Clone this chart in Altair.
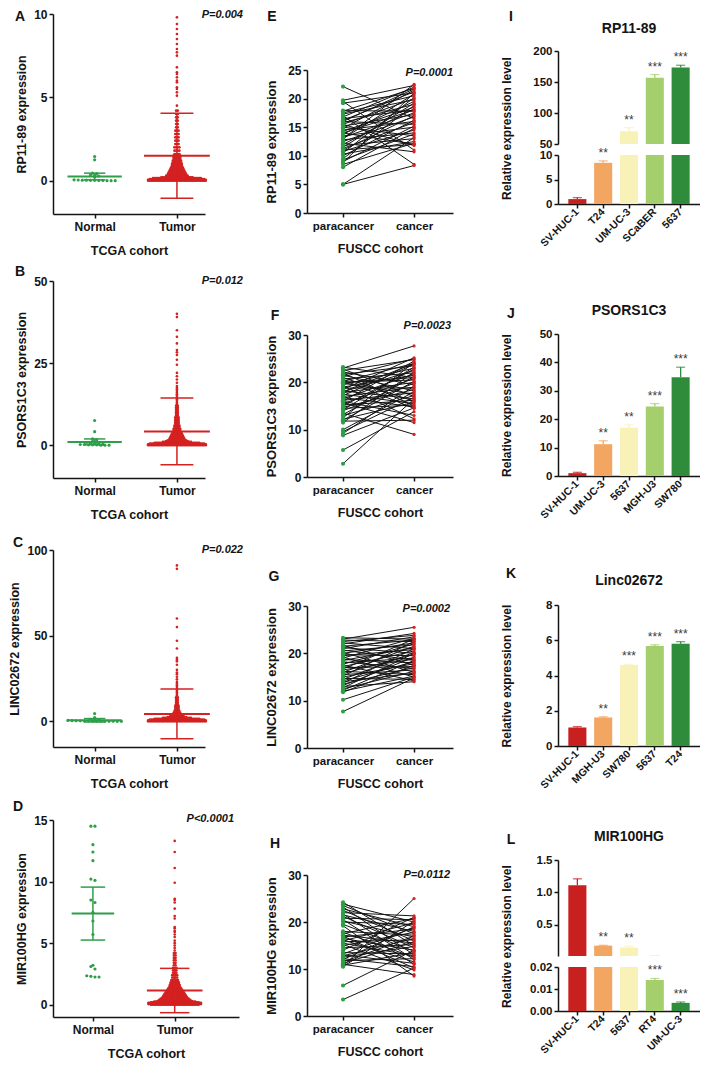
import altair as alt
import numpy as np
import pandas as pd

FONT = "Liberation Sans"
INK = "#141414"
GREEN = "#2f9e48"
RED = "#d42121"
BAR_COLORS = ["#c81f1f", "#f3a562", "#f8f2b8", "#a5cf6c", "#2f8c3b"]

LETTERS = ["A", "B", "C", "D", "E", "F", "G", "H", "I", "J", "K", "L"]
P_TCGA = ["P=0.004", "P=0.012", "P=0.022", "P<0.0001"]
P_FUSCC = ["P=0.0001", "P=0.0023", "P=0.0002", "P=0.0112"]
GENES_TCGA = ["RP11-89 expression", "PSORS1C3 expression", "LINC02672 expression", "MIR100HG expression"]
GENES_FUSCC = ["RP11-89 expression", "PSORS1C3 expression", "LINC02672 expression", "MIR100HG expression"]
BAR_TITLES = ["RP11-89", "PSORS1C3", "Linc02672", "MIR100HG"]

# ---------------- TCGA cohort (A-D) ----------------
A_normal = [1.45, 1.25, 0.45, 0.42, 0.35, 0.3, 0.28, 0.22, 0.05, 0.04, 0.03, 0.03, 0.02, 0.02, 0.01, 0.01, 0.0, 0.0, 0.0]
A_tumor_levels = [0.0, 0.05, 0.1, 0.15, 0.2, 0.25,
                  0.3, 0.4, 0.5, 0.6, 0.7, 0.8, 0.9, 1.0, 1.1, 1.2, 1.3, 1.4, 1.5, 1.6,
                  1.8, 2.0, 2.2, 2.4, 2.6, 2.8, 3.0, 3.2, 3.4, 3.6, 3.8, 4.0, 4.2,
                  4.5, 5.1, 5.3, 5.5, 5.6, 5.9, 6.0, 6.2, 6.4, 6.5, 6.8, 7.5, 7.7, 7.9, 8.2, 8.5, 8.8, 9.1, 9.4, 9.8]
A_tumor_counts = [36, 36, 34, 30, 20, 14,
                  14, 12, 11, 10, 9, 8, 7, 7, 6, 6, 5, 5, 5, 4,
                  4, 4, 3, 3, 3, 3, 3, 2, 2, 2, 2, 2, 2,
                  1, 1, 1, 1, 1, 1, 1, 1, 1, 1, 1, 1, 1, 1, 1, 1, 1, 1, 1, 1]
A_mean = [0.25, 1.5]
A_sd = [0.2, 2.55]

B_normal = [7.5, 4.1, 1.9, 1.6, 1.2, 1.0, 0.8, 0.6, 0.5, 0.4, 0.3, 0.2, 0.2, 0.1, 0.1, 0.1, 0.0, 0.0, 0.0]
B_tumor_levels = [0.0, 0.25, 0.5, 0.75, 1.0, 1.25, 1.5,
                  2.0, 2.5, 3.0, 3.5, 4.0, 4.5, 5.0, 5.5, 6.0, 6.5, 7.0, 7.5, 8.0, 8.5, 9.0, 9.5, 10.0, 10.5, 11.0, 11.5, 12.0,
                  12.5, 13.0, 13.5, 14.0, 14.5, 15.0, 15.5, 16.0, 16.5, 17.0, 17.5, 18.0,
                  19.0, 20.0, 21.0, 22.0, 24.5, 26.0, 27.5, 28.3, 29.0, 31.0, 33.0, 35.0, 39.0, 40.0]
B_tumor_counts = [36, 36, 34, 28, 18, 14, 12,
                  10, 9, 8, 7, 6, 5, 5, 4, 4, 3, 3, 3, 3, 3, 2, 2, 2, 2, 2, 2, 2,
                  1, 1, 1, 1, 1, 1, 1, 1, 1, 1, 1, 1,
                  1, 1, 1, 1, 1, 1, 1, 1, 1, 1, 1, 1, 1, 1]
B_mean = [1.0, 4.2]
B_sd = [0.9, 10.2]

C_normal = [4.5, 2.2, 1.2, 0.9, 0.7, 0.5, 0.4, 0.3, 0.3, 0.2, 0.2, 0.1, 0.1, 0.1, 0.05, 0.05, 0.02, 0.0, 0.0]
C_tumor_levels = [0.0, 0.5, 1.0, 1.5, 2.0, 2.5, 3.0, 3.5, 4.0,
                  5.0, 6.0, 7.0, 8.0, 9.0, 10.0, 11.0, 12.0, 13.0, 14.0, 15.0, 16.0, 17.0, 18.0, 19.0, 20.0, 21.0, 22.0, 23.0,
                  24.5, 26.0, 27.5, 28.5, 30.0, 33.0, 35.0, 36.0, 37.0, 42.5, 47.0, 55.0, 60.0, 89.0, 91.0]
C_tumor_counts = [36, 36, 34, 28, 18, 12, 9, 8, 7,
                  5, 4, 3, 3, 3, 2, 2, 2, 2, 2, 1, 1, 1, 1, 1, 1, 1, 1, 1,
                  1, 1, 1, 1, 1, 1, 1, 1, 1, 1, 1, 1, 1, 1, 1]
C_mean = [0.6, 4.3]
C_sd = [1.0, 14.5]

D_normal = [14.5, 14.5, 13.0, 12.4, 11.7, 10.2, 10.1, 8.5, 8.3, 7.5, 6.8, 5.7, 3.2, 3.1, 2.9, 2.35, 2.3, 2.25, 2.25]
D_tumor_levels = [0.0, 0.05, 0.1, 0.15, 0.2, 0.25, 0.3,
                  0.4, 0.5, 0.6, 0.7, 0.8, 0.9, 1.0, 1.1, 1.2, 1.3, 1.4, 1.5, 1.6, 1.7, 1.8, 1.9, 2.0,
                  2.2, 2.4, 2.6, 2.8, 3.0, 3.2, 3.4, 3.6, 3.8, 4.0, 4.2, 4.4, 4.6, 4.8, 5.0, 5.2,
                  5.5, 5.7, 5.9, 6.0, 6.2, 6.3, 7.0, 7.2, 7.8, 8.3, 8.5, 8.6, 9.9, 11.1, 12.4, 13.3]
D_tumor_counts = [30, 33, 33, 33, 30, 26, 22,
                  20, 18, 16, 15, 14, 13, 12, 11, 10, 9, 8, 7, 7, 6, 6, 5, 5,
                  4, 4, 3, 3, 3, 2, 2, 2, 2, 2, 2, 1, 1, 1, 1, 1,
                  1, 1, 1, 1, 1, 1, 1, 1, 1, 1, 1, 1, 1, 1, 1, 1]
D_mean = [7.4, 1.15]
D_sd = [2.15, 1.8]

# ---------------- FUSCC cohort (E-H), paired samples ----------------
E_para = [22.1, 19.7, 19.5, 19.2, 17.8, 17.5, 17.3, 17.0, 16.8, 16.5, 16.2, 16.0, 15.8, 15.5, 15.2, 15.0, 14.8,
          14.5, 14.3, 14.0, 13.8, 13.5, 13.2, 13.0, 12.8, 12.5, 12.2, 12.0, 11.8, 11.5, 11.3, 11.0, 10.8, 10.5,
          10.3, 10.0, 9.5, 9.3, 9.0, 8.8, 8.5, 8.0, 5.0, 5.0, 16.0, 13.0, 17.9, 11.0, 14.0, 15.5]
E_canc = [16.5, 22.3, 11.0, 21.0, 21.8, 20.5, 19.8, 8.5, 22.0, 18.0, 21.2, 15.5, 19.0, 20.0, 17.2, 13.5, 21.5,
          16.0, 18.5, 12.0, 19.5, 15.0, 17.5, 20.8, 14.0, 16.8, 10.7, 18.2, 13.0, 19.2, 15.8, 17.0, 14.5, 20.2,
          12.5, 16.2, 18.8, 13.8, 15.2, 21.0, 12.2, 14.8, 8.3, 13.2, 21.7, 22.5, 17.8, 12.0, 18.0, 11.8]

F_para = [23.2, 23.0, 22.8, 22.5, 22.2, 22.0, 21.7, 21.5, 21.2, 21.0, 20.7, 20.5, 20.2, 20.0, 19.8, 19.5, 19.2,
          19.0, 18.8, 18.5, 18.2, 18.0, 17.8, 17.5, 17.2, 17.0, 16.8, 16.5, 16.2, 16.0, 15.7, 15.5, 15.2, 15.0,
          14.7, 14.5, 14.2, 14.0, 13.5, 13.2, 13.0, 12.5, 12.2, 12.0, 11.8, 11.5, 10.0, 9.6, 9.2, 8.8, 5.7, 2.8,
          20.0, 18.0, 16.0]
F_canc = [21.0, 27.7, 17.0, 24.8, 19.5, 15.0, 23.5, 18.2, 25.0, 16.0, 22.0, 14.5, 24.0, 20.5, 17.5, 23.0, 12.3,
          21.5, 18.8, 25.2, 16.5, 22.5, 20.0, 15.5, 23.8, 19.0, 14.8, 21.8, 17.8, 24.5, 11.5, 20.8, 16.2, 22.8,
          18.5, 15.2, 23.2, 19.8, 9.0, 21.2, 17.2, 24.2, 15.8, 20.2, 12.0, 22.2, 18.0, 16.8, 19.2, 14.6, 13.8, 16.5,
          21.0, 24.0, 13.0]

G_para = [23.3, 23.0, 22.8, 22.5, 22.2, 22.0, 21.7, 21.5, 21.2, 21.0, 20.7, 20.5, 20.2, 20.0, 19.7, 19.5, 19.2,
          19.0, 18.7, 18.5, 18.2, 18.0, 17.7, 17.5, 17.2, 17.0, 16.7, 16.5, 16.2, 16.0, 15.7, 15.5, 15.2, 15.0,
          14.7, 14.5, 14.2, 14.0, 13.7, 13.5, 13.2, 13.0, 12.7, 12.5, 12.2, 12.0, 11.8, 10.2, 7.7]
G_canc = [23.0, 25.5, 22.5, 23.8, 21.0, 24.2, 17.5, 22.8, 20.0, 23.5, 18.5, 21.8, 16.0, 22.2, 19.5, 20.8, 15.0,
          23.2, 18.0, 21.2, 16.8, 19.0, 22.0, 14.2, 20.5, 17.2, 23.0, 18.8, 15.5, 21.5, 19.8, 16.5, 22.5, 17.8,
          14.5, 20.2, 18.2, 15.8, 21.0, 17.0, 19.2, 14.0, 20.0, 16.2, 18.5, 15.2, 17.5, 15.0, 14.8]

H_para = [24.2, 23.8, 23.5, 23.2, 22.8, 22.5, 22.0, 21.7, 21.5, 21.2, 20.8, 20.5, 20.2, 20.0, 19.5, 19.2, 18.0,
          17.8, 17.5, 17.2, 17.0, 16.8, 16.5, 16.2, 16.0, 15.8, 15.5, 15.2, 15.0, 14.5, 14.0, 13.5, 13.2, 13.0,
          12.8, 12.5, 12.2, 12.0, 11.8, 11.5, 11.2, 11.0, 10.8, 10.5, 6.5, 3.5, 10.6]
H_canc = [15.0, 20.0, 17.5, 13.0, 19.0, 16.0, 21.3, 12.0, 18.0, 14.5, 20.5, 11.0, 16.8, 19.5, 13.8, 8.5, 17.2,
          12.5, 20.8, 15.5, 10.2, 18.5, 14.0, 11.5, 19.8, 16.2, 12.8, 9.8, 17.8, 15.2, 21.0, 13.2, 18.8, 11.2,
          16.5, 14.8, 10.5, 19.0, 12.2, 17.0, 15.8, 8.8, 13.5, 20.2, 14.0, 10.2, 25.0]

# ---------------- cell lines (I-L) ----------------
I_cells = ["SV-HUC-1", "T24", "UM-UC-3", "SCaBER", "5637"]
I_vals = [1.0, 8.4, 70.5, 157.0, 173.5]
I_errs = [0.3, 0.4, 6.0, 5.0, 3.5]
I_sig = ["", "**", "**", "***", "***"]

J_cells = ["SV-HUC-1", "UM-UC-3", "5637", "MGH-U3", "SW780"]
J_vals = [1.0, 11.2, 17.0, 24.5, 34.8]
J_errs = [0.3, 1.2, 1.0, 1.0, 3.5]
J_sig = ["", "**", "**", "***", "***"]

K_cells = ["SV-HUC-1", "MGH-U3", "SW780", "5637", "T24"]
K_vals = [1.05, 1.62, 4.6, 5.68, 5.8]
K_errs = [0.05, 0.04, 0.03, 0.06, 0.12]
K_sig = ["", "**", "***", "***", "***"]

L_cells = ["SV-HUC-1", "T24", "5637", "RT4", "UM-UC-3"]
L_vals = [1.11, 0.18, 0.15, 0.0141, 0.0037]
L_errs = [0.1, 0.005, 0.02, 0.0007, 0.0004]
L_sig = ["", "**", "**", "***", "***"]

W1, W1D, W2, W3 = 152, 186, 146, 142


def note(text, pos, size, align="center", italic=False):
    kw = dict(font=FONT, fontSize=size, fontWeight="bold", color=INK, align=align, baseline="middle")
    if italic:
        kw["fontStyle"] = "italic"
    return alt.Chart(pd.DataFrame({"t": [text]})).mark_text(**kw).encode(
        x=alt.value(pos[0]), y=alt.value(pos[1]), text="t:N")


def spacer(h, w):
    return alt.Chart(pd.DataFrame({"t": [0]})).mark_rule(opacity=0, strokeWidth=0).encode(
        x=alt.value(0), x2=alt.value(0), y=alt.value(0), y2=alt.value(0)).properties(width=w, height=h)


def tcga_panel(letter, ptext, ytitle, normal, levels, counts, mean, sd, ydom, yticks,
               width, height, xdom, nbw, tbw, mhw, chw, letter_pos, p_pos):
    tumor = np.repeat(np.asarray(levels, float), np.asarray(counts, int))
    df = pd.DataFrame({"v": [float(v) for v in normal] + tumor.tolist(),
                       "gi": [0] * len(normal) + [1] * len(tumor)})
    xs = alt.Scale(domain=xdom, nice=False, zero=False)
    ys = alt.Scale(domain=ydom, nice=False, zero=False)
    xax = alt.Axis(values=[0, 1], labelExpr="datum.value == 0 ? 'Normal' : 'Tumor'",
                   title="TCGA cohort", labelFontSize=12, titleFontSize=12.5,
                   labelPadding=3, titlePadding=12, labelFlush=False)
    yax = alt.Axis(values=yticks, title=ytitle, labelFontSize=12, titleFontSize=12.5, titlePadding=5)
    color = alt.Color("gi:N", scale=alt.Scale(domain=[0, 1], range=[GREEN, RED]), legend=None)
    pts = (alt.Chart(df)
           .transform_calculate(b=f"round(datum.v / (datum.gi == 0 ? {nbw} : {tbw}))")
           .transform_joinaggregate(cnt="count()", groupby=["gi", "b"])
           .transform_window(rn="row_number()", groupby=["gi", "b"])
           .transform_calculate(xp="datum.gi + (datum.rn - (datum.cnt + 1) / 2) * (datum.gi == 0 ? 0.05 : 0.02)")
           .mark_circle(opacity=1)
           .encode(x=alt.X("xp:Q", scale=xs, axis=xax),
                   y=alt.Y("v:Q", scale=ys, axis=yax),
                   color=color,
                   size=alt.Size("gi:O", scale=alt.Scale(domain=[0, 1], range=[10, 7]), legend=None)))
    st = pd.DataFrame({"gi": [0, 1], "m": mean, "sd": sd})
    stats = alt.Chart(st).transform_calculate(
        lo="datum.m - datum.sd", hi="datum.m + datum.sd",
        m1=f"datum.gi - (datum.gi == 0 ? {mhw[0]} : {mhw[1]})",
        m2=f"datum.gi + (datum.gi == 0 ? {mhw[0]} : {mhw[1]})",
        c1=f"datum.gi - (datum.gi == 0 ? {chw[0]} : {chw[1]})",
        c2=f"datum.gi + (datum.gi == 0 ? {chw[0]} : {chw[1]})")
    mean_rule = stats.mark_rule(strokeWidth=2).encode(
        x=alt.X("m1:Q", scale=xs, axis=xax), x2="m2:Q", y=alt.Y("m:Q", scale=ys, axis=yax), color=color)
    sd_rule = stats.mark_rule(strokeWidth=1.5).encode(
        x=alt.X("gi:Q", scale=xs, axis=xax), y=alt.Y("lo:Q", scale=ys, axis=yax), y2="hi:Q", color=color)
    cap_lo = stats.mark_rule(strokeWidth=1.5).encode(
        x=alt.X("c1:Q", scale=xs, axis=xax), x2="c2:Q", y=alt.Y("lo:Q", scale=ys, axis=yax), color=color)
    cap_hi = stats.mark_rule(strokeWidth=1.5).encode(
        x=alt.X("c1:Q", scale=xs, axis=xax), x2="c2:Q", y=alt.Y("hi:Q", scale=ys, axis=yax), color=color)
    return alt.layer(pts, mean_rule, sd_rule, cap_lo, cap_hi,
                     note(letter, letter_pos, 14), note(ptext, p_pos, 11, "right", True)
                     ).properties(width=width, height=height)


def fuscc_panel(letter, ptext, ytitle, para, canc, ydom, yticks, height, letter_pos, p_pos):
    n = len(para)
    df = pd.DataFrame({"pid": list(range(n)) * 2, "ci": [0] * n + [1] * n,
                       "v": list(para) + list(canc)})
    xs = alt.Scale(domain=[-0.507, 1.548], nice=False, zero=False)
    ys = alt.Scale(domain=ydom, nice=False, zero=False)
    xax = alt.Axis(values=[0, 1], labelExpr="datum.value == 0 ? 'paracancer' : 'cancer'",
                   title="FUSCC cohort", labelFontSize=11.5, titleFontSize=12.5,
                   labelPadding=3, titlePadding=11, labelFlush=False)
    yax = alt.Axis(values=yticks, title=ytitle, labelFontSize=12, titleFontSize=13, titlePadding=9)
    x = alt.X("ci:Q", scale=xs, axis=xax)
    y = alt.Y("v:Q", scale=ys, axis=yax)
    lines = alt.Chart(df).mark_line(color=INK, strokeWidth=1).encode(x=x, y=y, detail="pid:N")
    pts = alt.Chart(df).mark_circle(opacity=1).encode(
        x=x, y=y,
        color=alt.Color("ci:N", scale=alt.Scale(domain=[0, 1], range=[GREEN, RED]), legend=None),
        size=alt.Size("ci:O", scale=alt.Scale(domain=[0, 1], range=[17, 10]), legend=None))
    return alt.layer(lines, pts, note(letter, letter_pos, 14), note(ptext, p_pos, 11, "right", True)
                     ).properties(width=W2, height=height)


def bar_segment(cells, vals, errs, sigs, ydom, yticks, fmt, height, show_x,
                ytitle=None, title_y=None, title=None, title_dy=-22, letter=None, letter_pos=None):
    df = pd.DataFrame({"cell": cells, "val": vals, "err": errs, "sig": sigs})
    if show_x:
        xax = alt.Axis(labelAngle=-45, labelAlign="right", labelBaseline="middle",
                       labelFontSize=10.5, title=None, labelPadding=2)
    else:
        xax = None
    x = alt.X("cell:N", sort=cells, scale=alt.Scale(paddingInner=0.3, paddingOuter=0.4), axis=xax)
    ykw = dict(values=yticks, labelFontSize=11.5)
    if fmt:
        ykw["format"] = fmt
    if ytitle:
        ykw.update(title=ytitle, titleFontSize=12, titleX=-45)
        if title_y is not None:
            ykw["titleY"] = title_y
    else:
        ykw["title"] = None
    yax = alt.Axis(**ykw)
    ys = alt.Scale(domain=ydom, nice=False, zero=False)
    color = alt.Color("cell:N", sort=cells, scale=alt.Scale(domain=cells, range=BAR_COLORS), legend=None)
    base = alt.Chart(df).transform_calculate(hi="datum.val + datum.err")
    bars = base.mark_bar(clip=True).encode(
        x=x, y=alt.Y("val:Q", scale=ys, axis=yax, stack=None), y2=alt.datum(0), color=color)
    err = base.mark_rule(clip=True, strokeWidth=1.3).encode(
        x=x, y=alt.Y("val:Q", scale=ys, axis=yax), y2="hi:Q", color=color)
    cap = base.mark_tick(clip=True, thickness=1.3, size=9).encode(
        x=x, y=alt.Y("hi:Q", scale=ys, axis=yax), color=color)
    stars = base.transform_filter(
        f"datum.hi >= {ydom[0]} && datum.hi <= {ydom[1]}"
    ).mark_text(dy=-1, baseline="bottom", fontSize=12, color="#3a3a3a", font=FONT).encode(
        x=x, y=alt.Y("hi:Q", scale=ys, axis=yax), text="sig:N")
    layers = [bars, err, cap, stars]
    if title:
        layers.append(note(title, (W3 / 2, title_dy), 14))
    if letter:
        layers.append(note(letter, letter_pos, 14))
    return alt.layer(*layers).properties(width=W3, height=height)


def column(items):
    return alt.vconcat(*items, spacing=0, bounds="flush").resolve_scale(
        color="independent", size="independent")


# ---------------- assemble ----------------
pA = tcga_panel(LETTERS[0], P_TCGA[0], GENES_TCGA[0], A_normal, A_tumor_levels, A_tumor_counts, A_mean, A_sd,
                [-2, 10], [0, 5, 10], W1, 200, [-0.506, 1.341], 0.15, 0.05, [0.33, 0.4], [0.13, 0.2],
                (-33, 3), (190, 1))
pB = tcga_panel(LETTERS[1], P_TCGA[1], GENES_TCGA[1], B_normal, B_tumor_levels, B_tumor_counts, B_mean, B_sd,
                [-10, 50], [0, 25, 50], W1, 197, [-0.506, 1.341], 0.6, 0.25, [0.33, 0.4], [0.13, 0.2],
                (-33, -9), (190, 0))
pC = tcga_panel(LETTERS[2], P_TCGA[2], GENES_TCGA[2], C_normal, C_tumor_levels, C_tumor_counts, C_mean, C_sd,
                [-15, 100], [0, 50, 100], W1, 197, [-0.506, 1.341], 1.2, 0.5, [0.33, 0.4], [0.13, 0.2],
                (-35, -7), (190, 0))
pD = tcga_panel(LETTERS[3], P_TCGA[3], GENES_TCGA[3], D_normal, D_tumor_levels, D_tumor_counts, D_mean, D_sd,
                [-1, 15], [0, 5, 10, 15], W1D, 197, [-0.488, 1.786], 0.3, 0.05, [0.26, 0.34], [0.15, 0.18],
                (-35, -13), (181, -1))

pE = fuscc_panel(LETTERS[4], P_FUSCC[0], GENES_FUSCC[0], E_para, E_canc, [0, 25], [0, 5, 10, 15, 20, 25], 143,
                 (-35, -53), (146, 3))
pF = fuscc_panel(LETTERS[5], P_FUSCC[1], GENES_FUSCC[1], F_para, F_canc, [0, 30], [0, 10, 20, 30], 142,
                 (-32, -19), (144, -9))
pG = fuscc_panel(LETTERS[6], P_FUSCC[2], GENES_FUSCC[2], G_para, G_canc, [0, 30], [0, 10, 20, 30], 142,
                 (-33, -29), (143, 3))
pH = fuscc_panel(LETTERS[7], P_FUSCC[3], GENES_FUSCC[3], H_para, H_canc, [0, 30], [0, 10, 20, 30], 141,
                 (-32, -31), (143, 0))

YT = "Relative expression level"
I_top = bar_segment(I_cells, I_vals, I_errs, I_sig, [50, 200], [50, 100, 150, 200], None, 93, False,
                    title=BAR_TITLES[0], title_dy=-22, letter=LETTERS[8], letter_pos=(-47, -34))
I_bot = bar_segment(I_cells, I_vals, I_errs, I_sig, [0, 10], [0, 5, 10], None, 49, True,
                    ytitle=YT, title_y=-27)
pJ = bar_segment(J_cells, J_vals, J_errs, J_sig, [0, 50], [0, 10, 20, 30, 40, 50], None, 142, True,
                 ytitle=YT, title=BAR_TITLES[1], title_dy=-23, letter=LETTERS[9], letter_pos=(-47, -20))
pK = bar_segment(K_cells, K_vals, K_errs, K_sig, [0, 8], [0, 2, 4, 6, 8], None, 141, True,
                 ytitle=YT, title=BAR_TITLES[2], title_dy=-24, letter=LETTERS[10], letter_pos=(-47, -31))
L_top = bar_segment(L_cells, L_vals, L_errs, L_sig, [0.02, 1.5], [0.5, 1.0, 1.5], ".1f", 96, False,
                    title=BAR_TITLES[3], title_dy=-23, letter=LETTERS[11], letter_pos=(-47, -20))
L_bot = bar_segment(L_cells, L_vals, L_errs, L_sig, [0, 0.02], [0, 0.01, 0.02], ".2f", 44, True,
                    ytitle=YT, title_y=-31)

col1 = column([spacer(5, W1), pA, spacer(67, W1), pB, spacer(72, W1), pC, spacer(73, W1), pD])
col2 = column([spacer(61, W2), pE, spacer(122, W2), pF, spacer(129, W2), pG, spacer(127, W2), pH])
col3 = column([spacer(42, W3), I_top, spacer(11, W3), I_bot, spacer(130, W3), pJ,
               spacer(129, W3), pK, spacer(114, W3), L_top, spacer(11, W3), L_bot])

left = alt.hconcat(col1, col2, spacing=22).resolve_scale(color="independent", size="independent")
chart = (alt.hconcat(left, col3, spacing=46)
         .resolve_scale(color="independent", size="independent")
         .properties(padding={"left": 0, "top": 0, "right": 0, "bottom": 0})
         .configure_view(stroke=None)
         .configure_axis(labelFont=FONT, titleFont=FONT, labelFontWeight="bold", titleFontWeight="bold",
                         labelColor=INK, titleColor=INK, domainColor=INK, tickColor=INK,
                         domainWidth=1.5, tickWidth=1.5, tickSize=4, grid=False)
         .configure_text(font=FONT))

chart.save("out.html", embed_options={"renderer": "svg", "actions": False})
